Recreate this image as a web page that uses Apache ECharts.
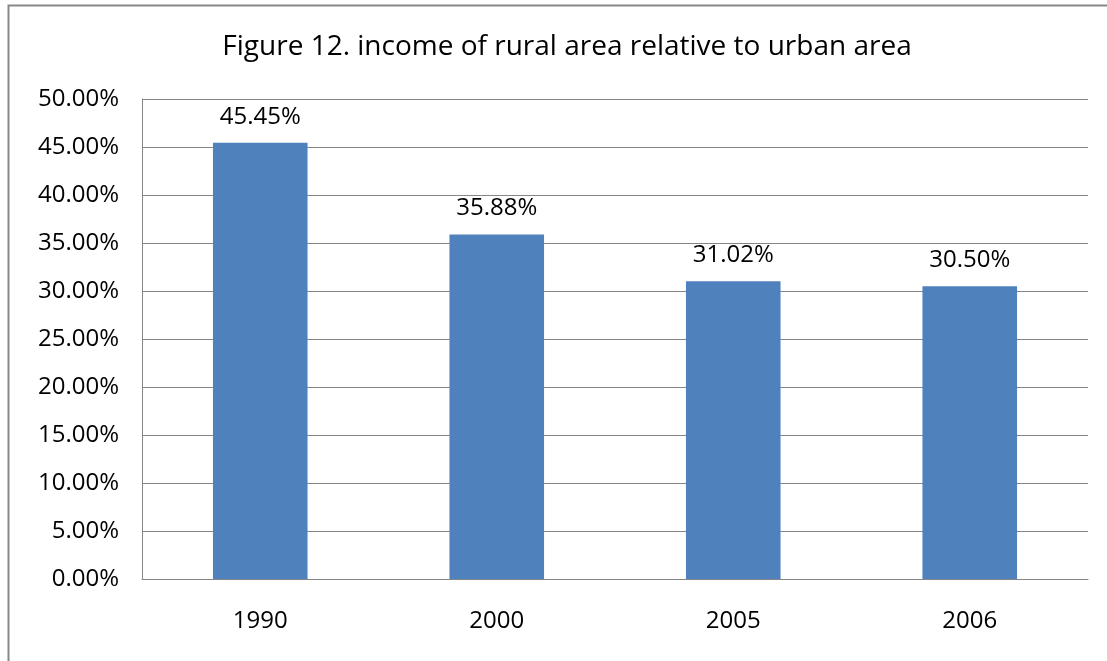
<!DOCTYPE html>
<html>
<head>
<meta charset="utf-8">
<script src="https://cdn.jsdelivr.net/npm/echarts@6/dist/echarts.min.js"></script>
<style>
html,body{margin:0;padding:0;background:#fff;}
#chart{width:1107px;height:661px;}
</style>
</head>
<body>
<div id="chart"></div>
<script>
const titleText = 'Figure 12. income of rural area relative to urban area';
const categories = ['1990', '2000', '2005', '2006'];
const values = [45.45, 35.88, 31.02, 30.50];
const yMin = 0, yMax = 50, yInterval = 5;

const font = '"Open Sans", sans-serif';
const chart = echarts.init(document.getElementById('chart'), null, {renderer: 'canvas'});
chart.setOption({
  animation: false,
  backgroundColor: '#ffffff',
  title: {
    text: titleText,
    left: 562, top: 28, textAlign: 'center',
    textStyle: {fontFamily: font, fontSize: 28, fontWeight: 'normal', color: '#000'}
  },
  graphic: [{
    type: 'polyline',
    shape: {points: [[8.5, 661], [8.5, 5.5], [1107, 5.5]]},
    style: {stroke: '#888888', lineWidth: 2, fill: null}
  }],
  grid: {left: 142, right: 19, top: 99, bottom: 82, containLabel: false},
  xAxis: {
    type: 'category', data: categories,
    axisLine: {show: true, lineStyle: {color: '#868686', width: 1}},
    axisTick: {show: false},
    axisLabel: {fontFamily: font, fontSize: 24, color: '#000', margin: 30}
  },
  yAxis: {
    type: 'value', min: yMin, max: yMax, interval: yInterval,
    axisLine: {show: true, lineStyle: {color: '#868686', width: 1}},
    axisTick: {show: false},
    splitLine: {show: true, lineStyle: {color: '#868686', width: 1}},
    axisLabel: {fontFamily: font, fontSize: 24, color: '#000', margin: 23,
      formatter: v => v.toFixed(2) + '%'}
  },
  series: [{
    type: 'bar', data: values, barWidth: '40%',
    itemStyle: {color: '#4F81BD'},
    label: {show: true, position: 'top', distance: 14,
      fontFamily: font, fontSize: 24, color: '#000',
      formatter: p => p.value.toFixed(2) + '%'}
  }]
});
</script>
</body>
</html>
